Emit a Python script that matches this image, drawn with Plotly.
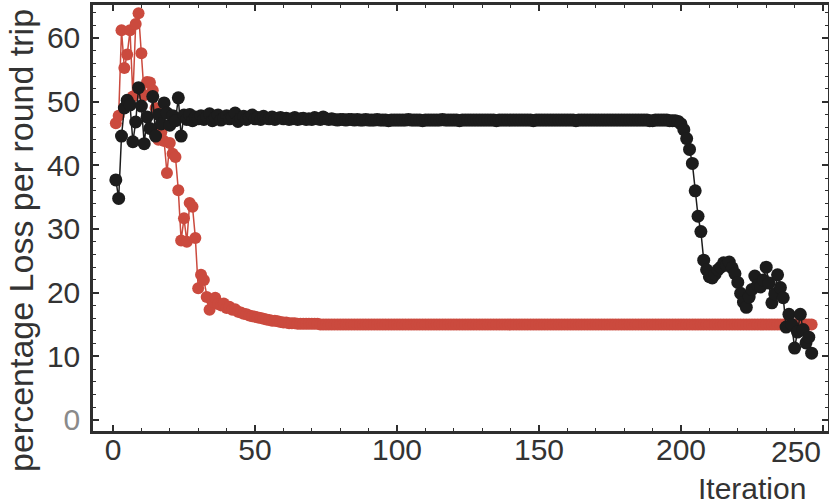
import plotly.graph_objects as go

# Data (iteration index starts at 1)
black_loss = [
    37.7, 34.8, 44.6, 49.0, 50.2, 49.5, 43.7, 46.8, 52.2, 49.3,
    43.4, 47.6, 45.8, 50.8, 44.6, 48.0, 46.5, 49.8, 48.2, 46.3,
    47.8, 47.0, 50.6, 44.6, 47.9, 47.2, 48.0, 47.0, 47.6, 47.3,
    47.8, 47.2, 47.6, 48.1, 47.0, 47.5, 47.9, 47.1, 47.4, 47.8,
    47.3, 47.6, 48.2, 46.9, 47.4, 47.7, 47.2, 47.5, 47.9, 47.3,
    47.5, 47.2, 47.7, 47.4, 47.3, 47.6, 47.2, 47.4, 47.5, 47.3,
    47.4, 47.2, 47.3, 47.5, 47.2, 47.3, 47.4, 47.2, 47.3, 47.2,
    47.5, 47.3, 47.2, 47.6, 47.3, 47.2, 47.3, 47.2, 47.1, 47.2,
    47.2, 47.1, 47.2, 47.2, 47.1, 47.2, 47.1, 47.1, 47.2, 47.1,
    47.1, 47.1, 47.2, 47.1, 47.1, 47.1, 47.0, 47.1, 47.1, 47.1,
    47.1, 47.1, 47.1, 47.2, 47.1, 47.1, 47.1, 47.1, 47.0, 47.1,
    47.1, 47.1, 47.1, 47.1, 47.1, 47.2, 47.1, 47.1, 47.1, 47.1,
    47.1, 47.0, 47.1, 47.1, 47.1, 47.1, 47.1, 47.1, 47.1, 47.1,
    47.1, 47.1, 47.1, 47.1, 47.0, 47.1, 47.1, 47.1, 47.1, 47.1,
    47.1, 47.1, 47.1, 47.1, 47.1, 47.1, 47.1, 47.0, 47.1, 47.1,
    47.1, 47.1, 47.1, 47.1, 47.1, 47.1, 47.1, 47.1, 47.1, 47.1,
    47.1, 47.1, 47.0, 47.1, 47.1, 47.1, 47.1, 47.1, 47.1, 47.1,
    47.1, 47.1, 47.1, 47.1, 47.1, 47.1, 47.1, 47.1, 47.1, 47.1,
    47.1, 47.1, 47.1, 47.1, 47.1, 47.1, 47.1, 47.1, 47.0, 47.0,
    47.1, 47.1, 47.1, 47.1, 47.1, 47.0, 47.0, 47.0, 46.9, 46.5,
    45.6, 44.2, 42.5, 40.3, 36.0, 32.0, 29.6, 25.1, 23.6, 22.5,
    22.3, 22.9, 23.6, 24.0, 24.7, 24.3, 24.8, 23.9, 23.0, 21.6,
    19.9, 18.5, 17.7, 19.3, 20.5, 22.6, 21.2, 20.9, 22.0, 24.0,
    21.5, 18.4, 19.8, 22.8, 20.8, 19.2, 14.6, 16.6, 15.0, 11.3,
    13.8, 16.6, 14.2, 12.1, 13.0, 10.5,
]

red_loss = [
    46.6, 47.8, 61.2, 55.3, 57.4, 61.2, 50.8, 62.2, 63.9, 57.6,
    51.0, 53.1, 53.0, 51.8, 49.0, 44.0, 45.2, 43.8, 38.8, 43.5,
    41.8, 41.3, 36.1, 28.2, 31.7, 28.0, 34.1, 33.5, 28.6, 20.7,
    22.8, 22.0, 19.3, 17.3, 18.6, 19.2, 18.2, 18.0, 18.3, 17.6,
    17.8, 17.3, 17.4, 17.0, 16.9, 16.7, 16.6, 16.4, 16.3, 16.2,
    16.1, 16.0, 15.9, 15.8, 15.7, 15.6, 15.6, 15.5, 15.4, 15.3,
    15.3, 15.2, 15.2, 15.2, 15.1, 15.1, 15.1, 15.1, 15.1, 15.1,
    15.1, 15.1, 15.0, 15.0, 15.0, 15.0, 15.0, 15.0, 15.0, 15.0,
    15.0, 15.0, 15.0, 15.0, 15.0, 15.0, 15.0, 15.0, 15.0, 15.0,
    15.0, 15.0, 15.0, 15.0, 15.0, 15.0, 15.0, 15.0, 15.0, 15.0,
    15.0, 15.0, 15.0, 15.0, 15.0, 15.0, 15.0, 15.0, 15.0, 15.0,
    15.0, 15.0, 15.0, 15.0, 15.0, 15.0, 15.0, 15.0, 15.0, 15.0,
    15.0, 15.0, 15.0, 15.0, 15.0, 15.0, 15.0, 15.0, 15.0, 15.0,
    15.0, 15.0, 15.0, 15.0, 15.0, 15.0, 15.0, 15.0, 15.0, 15.0,
    15.0, 15.0, 15.0, 15.0, 15.0, 15.0, 15.0, 15.0, 15.0, 15.0,
    15.0, 15.0, 15.0, 15.0, 15.0, 15.0, 15.0, 15.0, 15.0, 15.0,
    15.0, 15.0, 15.0, 15.0, 15.0, 15.0, 15.0, 15.0, 15.0, 15.0,
    15.0, 15.0, 15.0, 15.0, 15.0, 15.0, 15.0, 15.0, 15.0, 15.0,
    15.0, 15.0, 15.0, 15.0, 15.0, 15.0, 15.0, 15.0, 15.0, 15.0,
    15.0, 15.0, 15.0, 15.0, 15.0, 15.0, 15.0, 15.0, 15.0, 15.0,
    15.0, 15.0, 15.0, 15.0, 15.0, 15.0, 15.0, 15.0, 15.0, 15.0,
    15.0, 15.0, 15.0, 15.0, 15.0, 15.0, 15.0, 15.0, 15.0, 15.0,
    15.0, 15.0, 15.0, 15.0, 15.0, 15.0, 15.0, 15.0, 15.0, 15.0,
    15.0, 15.0, 15.0, 15.0, 15.0, 15.0, 15.0, 15.0, 15.0, 15.0,
    15.0, 15.0, 15.0, 15.0, 15.0, 15.0,
]

iter_black = list(range(1, len(black_loss) + 1))
iter_red = list(range(1, len(red_loss) + 1))

x_tick_vals = [0, 50, 100, 150, 200, 250]
x_tick_text = ["0", "50", "100", "150", "200", "250"]
y_tick_vals = [0, 10, 20, 30, 40, 50, 60]
y_tick_text = ["<span style='color:#8a8a8a'>0</span>", "10", "20", "30", "40", "50", "60"]

x_title = "Iteration"
y_title = "percentage Loss per round trip"

RED = "#cb4a3e"
BLACK = "#1c1c1c"
FRAME = "#2e2e2e"
TXT = "#333333"
FONT = "Liberation Sans, Arial, sans-serif"

fig = go.Figure()
fig.add_trace(go.Scatter(
    x=iter_red, y=red_loss, mode="lines+markers",
    line=dict(color=RED, width=1.5),
    marker=dict(color=RED, size=12, line=dict(width=0)),
    showlegend=False,
))
fig.add_trace(go.Scatter(
    x=iter_black, y=black_loss, mode="lines+markers",
    line=dict(color=BLACK, width=1.5),
    marker=dict(color=BLACK, size=13, line=dict(width=0)),
    showlegend=False,
))

W, H = 829, 504
L, R, T, B = 93, 1, 5, 73
PW, PH = W - L - R, H - T - B

# last x tick label is drawn right-aligned to its tick (as in the reference)
axis_ticktext = x_tick_text[:-1] + [""]
label_y = -(451 - (H - B)) / PH

fig.update_layout(
    width=W, height=H,
    margin=dict(l=L, r=R, t=T, b=B, pad=0),
    paper_bgcolor="white", plot_bgcolor="white",
    font=dict(family=FONT, size=30, color=TXT),
    xaxis=dict(
        range=[-7.04, 251.76], tickmode="array",
        tickvals=x_tick_vals, ticktext=axis_ticktext,
        ticks="inside", ticklen=6, tickwidth=1.5, tickcolor=FRAME,
        minor=dict(dtick=10, ticks="inside", ticklen=3, tickwidth=1, tickcolor=FRAME),
        showline=True, linecolor=FRAME, linewidth=2.5, mirror="allticks",
        showgrid=False, zeroline=False, automargin=False,
        tickfont=dict(size=30, color=TXT),
    ),
    yaxis=dict(
        range=[-1.73, 65.18], tickmode="array",
        tickvals=y_tick_vals, ticktext=y_tick_text,
        ticks="inside", ticklen=6, tickwidth=1.5, tickcolor=FRAME,
        minor=dict(dtick=2, ticks="inside", ticklen=3, tickwidth=1, tickcolor=FRAME),
        showline=True, linecolor=FRAME, linewidth=2.5, mirror="allticks",
        showgrid=False, zeroline=False, automargin=False,
        ticklabelstandoff=4,
        tickfont=dict(size=30, color=TXT),
    ),
    annotations=[
        dict(text=x_tick_text[-1], xref="x", yref="paper",
             x=x_tick_vals[-1], y=label_y,
             xanchor="right", yanchor="middle", showarrow=False,
             font=dict(family=FONT, size=30, color=TXT)),
        dict(text=x_title, xref="paper", yref="paper",
             x=(808 - L) / PW, y=-(488 - (H - B)) / PH,
             xanchor="right", yanchor="middle", showarrow=False,
             font=dict(family=FONT, size=30, color=TXT)),
        dict(text=y_title, xref="paper", yref="paper", textangle=-90,
             x=-(L - 21) / PW, y=((H - B) - 241) / PH,
             xanchor="center", yanchor="middle", showarrow=False,
             font=dict(family=FONT, size=34, color=TXT)),
    ],
)

try:
    fig.update_xaxes(ticklabelstandoff=-10)
except Exception as e:
    print("standoff not accepted:", e)

fig.write_html("out.html")
